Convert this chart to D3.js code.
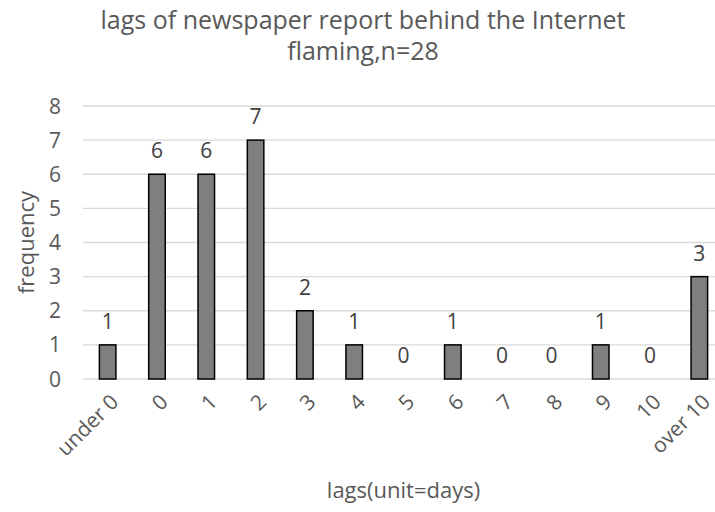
<!DOCTYPE html>
<html>
<head>
<meta charset="utf-8">
<script src="https://cdn.jsdelivr.net/npm/d3@7"></script>
<style>
  body { margin: 0; background: #fff; }
  svg { display: block; font-family: "Open Sans", "Noto Sans", sans-serif; }
</style>
</head>
<body>
<div id="chart"></div>
<script>
  // chart data
  const categories = ['under 0', '0', '1', '2', '3', '4', '5', '6', '7', '8', '9', '10', 'over 10'];
  const frequency = [1, 6, 6, 7, 2, 1, 0, 1, 0, 0, 1, 0, 3];
  const yTicks = [0, 1, 2, 3, 4, 5, 6, 7, 8];
  const titleLines = ['lags of newspaper report behind the Internet', 'flaming,n=28'];

  let width = 715, height = 512;
  let margin = {left: 83, top: 106, right: -9, bottom: 133};

  let svg = d3.select('#chart').append('svg')
    .attr('width', width)
    .attr('height', height);

  let x = d3.scaleBand()
    .domain(categories)
    .range([margin.left, width - margin.right])
    .paddingInner(0.665)
    .paddingOuter(0.3325);

  let y = d3.scaleLinear()
    .domain([0, 8])
    .range([height - margin.bottom, margin.top]);

  // gridlines
  svg.append('g')
    .selectAll('line')
    .data(yTicks)
    .enter().append('line')
      .attr('x1', margin.left)
      .attr('x2', width - margin.right)
      .attr('y1', d => y(d))
      .attr('y2', d => y(d))
      .attr('stroke', '#d9d9d9')
      .attr('stroke-width', 1.3);

  // y tick labels
  svg.append('g')
    .selectAll('text')
    .data(yTicks)
    .enter().append('text')
      .attr('x', 61)
      .attr('y', d => y(d))
      .attr('dy', '0.36em')
      .attr('text-anchor', 'end')
      .attr('fill', '#595959')
      .style('font-size', '21px')
      .text(d => d);

  // bars
  svg.append('g')
    .selectAll('rect')
    .data(frequency)
    .enter().append('rect')
      .attr('x', (d, i) => x(categories[i]))
      .attr('y', d => y(d))
      .attr('width', x.bandwidth())
      .attr('height', d => y(0) - y(d))
      .attr('fill', '#7f7f7f')
      .attr('stroke', '#000')
      .attr('stroke-width', 1.5);

  // value labels
  svg.append('g')
    .selectAll('text')
    .data(frequency)
    .enter().append('text')
      .attr('x', (d, i) => x(categories[i]) + x.bandwidth() / 2)
      .attr('y', d => y(d) - 16)
      .attr('text-anchor', 'middle')
      .attr('fill', '#404040')
      .style('font-size', '21px')
      .text(d => d);

  // x tick labels, rotated
  svg.append('g')
    .selectAll('text')
    .data(categories)
    .enter().append('text')
      .attr('transform', d => 'translate(' + (x(d) + x.bandwidth() / 2 + 7) + ',' + (y(0) + 19) + ') rotate(-45)')
      .attr('text-anchor', 'end')
      .attr('dy', '0.35em')
      .attr('fill', '#595959')
      .style('font-size', '21px')
      .text(d => d);

  // axis titles
  svg.append('text')
    .attr('x', (margin.left + width - margin.right) / 2)
    .attr('y', 498)
    .attr('text-anchor', 'middle')
    .attr('fill', '#595959')
    .style('font-size', '22px')
    .text('lags(unit=days)');

  svg.append('text')
    .attr('transform', 'translate(34,' + y(4) + ') rotate(-90)')
    .attr('text-anchor', 'middle')
    .attr('fill', '#595959')
    .style('font-size', '22px')
    .text('frequency');

  // title
  svg.append('g')
    .selectAll('text')
    .data(titleLines)
    .enter().append('text')
      .attr('x', 363)
      .attr('y', (d, i) => 29 + i * 31)
      .attr('text-anchor', 'middle')
      .attr('fill', '#595959')
      .style('font-size', '25px')
      .text(d => d);
</script>
</body>
</html>
